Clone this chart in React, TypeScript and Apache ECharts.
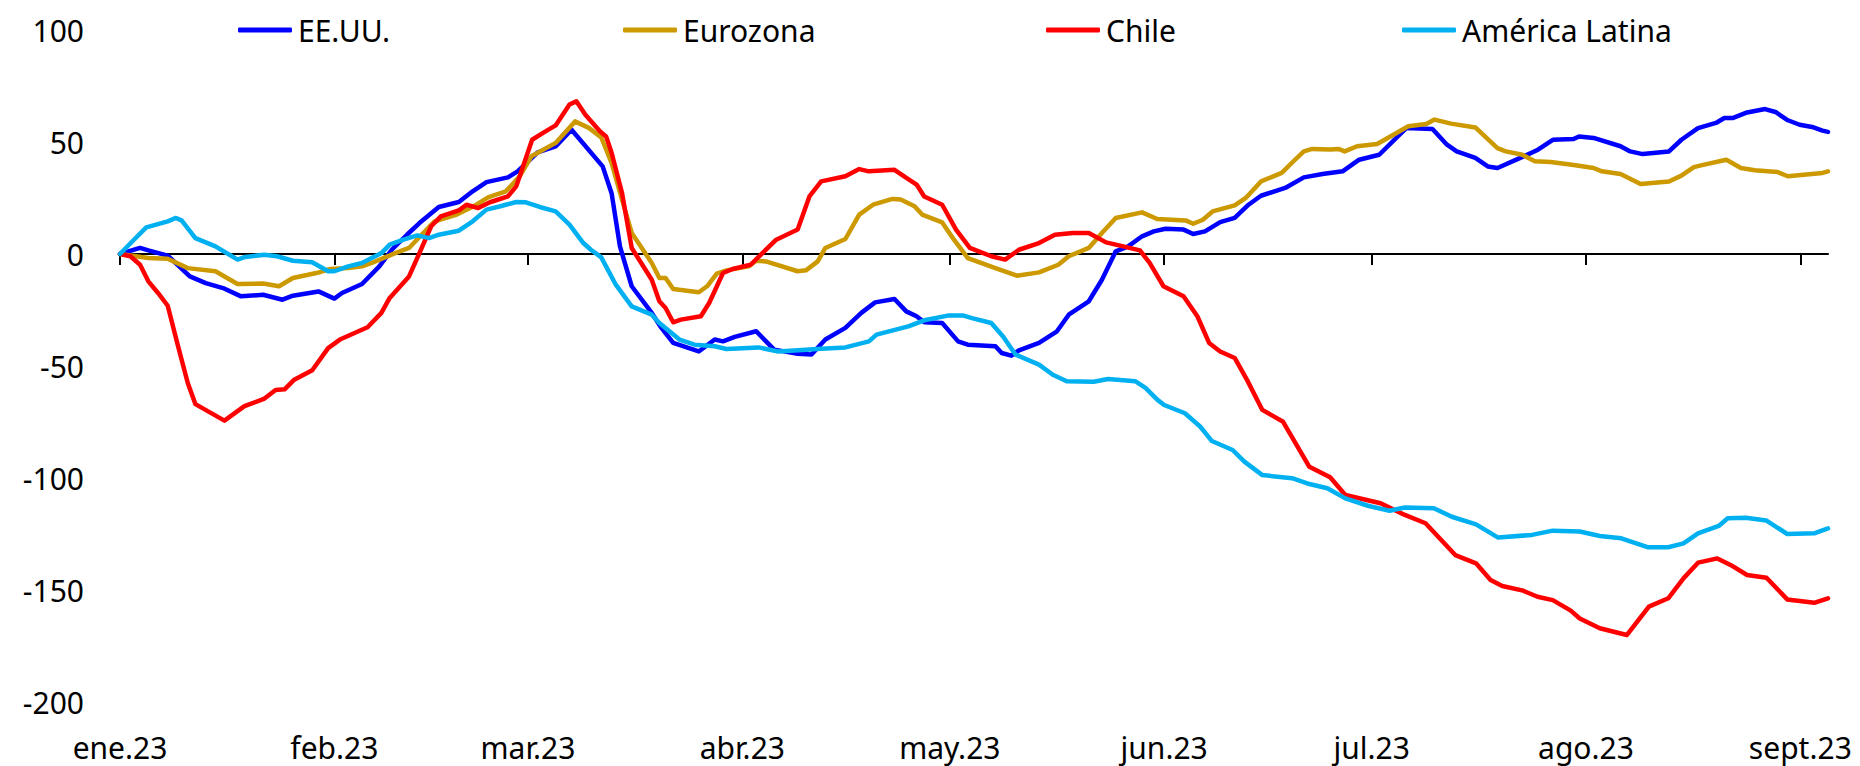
import React, { useEffect, useRef } from "react";
import * as echarts from "echarts";

// Day offsets counted from 1 Jan 2023
const monthStarts = [0, 31, 59, 90, 120, 151, 181, 212, 243];
const monthLabels = ["ene.23", "feb.23", "mar.23", "abr.23", "may.23", "jun.23", "jul.23", "ago.23", "sept.23"];
const yTicks = [-200, -150, -100, -50, 0, 50, 100];

const seriesNames = ["EE.UU.", "Eurozona", "Chile", "América Latina"];
const seriesColors = ["#0000FF", "#CC9900", "#FF0000", "#00B0F0"];

const eeuu: [number, number][] = [
  [0, 0], [2.9, 2.7], [4.1, 1.6], [6.9, -0.7], [10.1, -10], [12.4, -13], [14.9, -15.2], [17.5, -18.9],
  [20.7, -18.2], [23.5, -20.4], [25, -18.6], [28.7, -16.7], [31, -19.9], [32.1, -17.4], [35, -13.4],
  [37.5, -5.5], [39.3, 1.9], [41.5, 8.6], [43.3, 13.8], [46.1, 21], [49, 23.2], [51, 28], [53, 32.1],
  [56.1, 34.2], [57.5, 36.9], [60.4, 45.4], [63, 48], [65.3, 55.5], [69.8, 39.1], [71.1, 27], [72.3, 3.4],
  [74, -14.4], [76.9, -26.3], [78.3, -33], [80, -39.7], [83.7, -43.5], [86, -38.2], [87.2, -39], [88.9, -37],
  [92, -34.5], [94.6, -42.7], [98, -44.5], [100, -44.9], [102, -38.2], [104.9, -33], [107.2, -26.3],
  [109.2, -21.6], [112, -20.1], [113.7, -25.6], [115.2, -27.8], [116.3, -30.5], [118.9, -30.8], [121.2, -39],
  [122.6, -40.5], [126.6, -41.2], [127.5, -44.2], [128.9, -45.4], [130, -43], [132.9, -39.7], [135.5, -34.5],
  [137.2, -27.1], [140.1, -21.1], [142, -11.5], [144, 1.2], [145.8, 3.4], [147.8, 7.9], [149.5, 10.1],
  [151.2, 11.3], [153.8, 10.9], [155.2, 8.9], [156.9, 10.1], [159.1, 14.2], [161.2, 16.1], [163.2, 22],
  [165, 26], [168.5, 29.5], [171.2, 34.2], [173.9, 35.7], [176.8, 36.9], [179.2, 42.1], [182.1, 44.3],
  [186, 56.2], [189.8, 55.8], [191.9, 48.8], [193.3, 45.8], [196, 42.9], [197.8, 39.1], [199.2, 38.4],
  [202.5, 42.9], [204.9, 46.3], [207.2, 51], [210.2, 51.3], [211, 52.5], [213.1, 51.8], [217, 48.1],
  [218.4, 45.8], [220.2, 44.6], [224, 45.8], [225.8, 51], [228.2, 56.2], [230.8, 58.5], [232, 60.7],
  [233.2, 60.7], [235.3, 63.2], [237.9, 64.7], [239.4, 63.4], [241.2, 59.7], [242.9, 57.7], [244.7, 56.7],
  [246.2, 55.1], [247, 54.5],
];

const eurozona: [number, number][] = [
  [0, 0], [4.1, -1.8], [6.9, -2.1], [9.8, -6.3], [13.8, -7.7], [17, -13.4], [20.7, -13.2], [23, -14.4],
  [25, -10.7], [28.4, -8.5], [30.4, -6.7], [33, -6.3], [35, -5.5], [36.4, -4], [39.8, 0.4], [41.8, 2.7],
  [43.3, 7.6], [45.5, 14.6], [48.7, 17.6], [51.3, 21.6], [53.3, 25.4], [55.8, 28], [57.8, 34.7], [59.5, 43.6],
  [63, 49.6], [65.8, 59.2], [67.8, 56.3], [69.6, 52], [71.1, 40.6], [72.6, 24.3], [74, 9.4], [76.9, -4],
  [78, -10.7], [78.9, -10.7], [80, -15.6], [83.7, -17.1], [84.9, -14.4], [86.3, -8.8], [87.7, -7.3],
  [90.9, -5.5], [92, -3], [93.4, -3.3], [98, -7.7], [99.2, -7.3], [100.9, -3.3], [102, 2.7], [104.9, 6.7],
  [106.9, 17.6], [108.9, 22], [111.7, 24.6], [112.9, 24.3], [114.9, 21.3], [116, 17.6], [118.9, 14.1],
  [120.6, 6.4], [122.6, -1.8], [126.6, -6.3], [129.7, -9.7], [132.9, -8.2], [135.7, -4.8], [137.2, -1],
  [140.1, 2.7], [142, 9.4], [144, 16.1], [147.8, 18.6], [150, 15.6], [154.1, 15], [155.2, 13.5], [156.6, 15.3],
  [158, 19], [161.2, 21.7], [162.9, 25.3], [165, 32.4], [168, 36.2], [169.7, 41.4], [171.2, 45.8], [172.4, 46.9],
  [175, 46.6], [176.2, 46.9], [177.1, 45.8], [178.9, 48.1], [181.8, 49.1], [183.9, 52.8], [186.3, 57],
  [188.9, 58], [190.1, 60], [192.5, 58.2], [196, 56.5], [199.2, 47.3], [200.4, 45.8], [202.8, 44.3],
  [204.6, 41.4], [206.9, 41.1], [210.5, 39.6], [213.1, 38.4], [214.3, 36.9], [217, 35.7], [219.9, 31.2],
  [224, 32.4], [225.8, 35], [227.6, 38.8], [229.1, 39.9], [232.3, 42.1], [234.4, 38.4], [236.4, 37.4],
  [239.7, 36.6], [241.2, 34.7], [243.5, 35.4], [246.2, 36.2], [247, 36.9],
];

const chile: [number, number][] = [
  [0, 0], [1.5, -1], [2.9, -4.8], [4.1, -12.2], [5.5, -17.4], [6.9, -23.1], [8.4, -41.2], [9.8, -57.6],
  [10.9, -67], [15.1, -74.4], [18, -67.9], [20.8, -64.7], [22.5, -60.7], [23.8, -60.4], [25.2, -56.1],
  [27.8, -51.9], [30.1, -42], [31.8, -38.2], [35.8, -32.7], [37.8, -26.3], [39, -19.6], [41.8, -10],
  [43.3, 0.4], [45, 12.4], [46.4, 16.8], [49, 19.5], [50.1, 22], [51.8, 20.5], [53.5, 23.1], [56.1, 25.7],
  [57.3, 30.2], [59.6, 51], [61.3, 54.3], [63, 57.4], [65, 66.7], [66, 68.2], [67.3, 62.2], [69.4, 54.8],
  [70.3, 52.5], [71.1, 45.1], [72.6, 27.2], [74, 2.7], [76.9, -11.5], [78, -21.1], [78.9, -24.1], [80, -30.5],
  [81.1, -29.3], [84, -27.8], [85.2, -21.9], [87.2, -8.5], [88.6, -6.7], [91.2, -4.8], [92.9, 0.4],
  [94.9, 6.4], [98, 10.9], [99.7, 25.7], [101.4, 32.4], [104.9, 34.7], [106.9, 37.9], [108.3, 36.9],
  [112, 37.6], [113.5, 34.4], [115.2, 31], [116.3, 25.7], [118.9, 22], [120.9, 10.9], [122.9, 2.7],
  [126, -1], [128, -2.5], [130, 1.9], [132.9, 4.9], [135.2, 8.6], [137.8, 9.4], [140.1, 9.4], [142.6, 5.2],
  [144, 4.2], [147.5, 1.6], [148.9, -4], [150.9, -14.4], [153.8, -18.9], [155.8, -27.8], [157.5, -39.7],
  [159.1, -43.5], [161.2, -46.4], [163, -56.3], [165.2, -69.6], [168.2, -74.9], [172, -95], [175, -99.7],
  [177.2, -107.6], [182.3, -111.3], [185.8, -116.5], [188.8, -120.2], [193.1, -134.4], [196.1, -138.1],
  [198.2, -145.5], [199.9, -148.2], [202.9, -150.3], [205, -153], [207.2, -154.5], [209.8, -159.2],
  [211.1, -162.7], [214, -167.1], [217.9, -170.1], [221.1, -157.4], [223.9, -153.7], [226.1, -144.8],
  [228.2, -137.8], [231, -135.9], [232.9, -138.8], [235.3, -143.3], [238.1, -144.5], [241.1, -154.2],
  [245, -155.7], [247, -153.7],
];

const americaLatina: [number, number][] = [
  [0, 0], [1.8, 5.7], [3.8, 11.9], [6.9, 14.6], [8.1, 16.1], [8.9, 15], [10.9, 7.1], [13.8, 3.4], [17, -2.5],
  [18.1, -1.3], [20.9, -0.3], [22.7, -1], [25, -3], [27.8, -3.7], [30.1, -7.7], [31, -7.7], [33, -5.5],
  [35, -4], [36.4, -1.8], [37.8, 0.4], [39, 4.2], [41, 6.4], [43, 8.3], [44.7, 7.1], [46.1, 8.6], [49, 10.4],
  [51, 14.6], [53, 19.8], [55, 21.3], [57.3, 23.2], [58.7, 23.1], [60.7, 21], [63, 19], [65, 13.1], [67, 4.9],
  [68.1, 1.9], [69.6, -1.5], [71.7, -13.7], [74, -23.4], [76.9, -27.1], [78, -30.8], [80.9, -38.2],
  [83.1, -40.5], [86, -41.2], [87.7, -42.4], [92.3, -41.7], [95.2, -43.5], [99.2, -42.7], [101.4, -42.3],
  [104.9, -41.7], [108.3, -39], [109.4, -36], [114, -32.3], [116.3, -29.6], [119.7, -27.5], [122, -27.5],
  [123.2, -28.6], [126, -30.8], [127.7, -36.8], [129.5, -44.9], [132.9, -49.4], [134.9, -53.9], [136.9, -56.8],
  [140.8, -57], [142.9, -55.8], [146.8, -56.8], [148.3, -59.8], [150, -65], [151, -67.4], [154, -71.1],
  [156.2, -77], [157.9, -83.5], [160.9, -87.5], [162.6, -92.7], [165.2, -98.7], [169.5, -100.1], [172, -102.7],
  [174.6, -104.6], [177.2, -109.1], [180.6, -112.5], [183.6, -114.6], [185.8, -113.2], [190, -113.5],
  [192.6, -117.3], [196.1, -120.7], [199.3, -126.6], [204.2, -125.4], [207.2, -123.5], [211.1, -123.9],
  [214, -125.9], [217.1, -126.9], [220.9, -130.9], [223.9, -130.9], [226.1, -129.2], [228.2, -124.7],
  [231.2, -121.4], [232.5, -118], [235.1, -117.7], [238.1, -119], [241.1, -125], [245, -124.7], [247, -122.5],
];

const seriesData = [eeuu, eurozona, chile, americaLatina];

const X_MIN = 0;
const X_MAX = 247;
const FONT = "'Noto Sans', 'Open Sans', sans-serif";
const legendLefts = [238, 623, 1046, 1402];

export default function App() {
  const ref = useRef<HTMLDivElement>(null);

  useEffect(() => {
    if (!ref.current) return;
    const chart = echarts.init(ref.current, null, { renderer: "svg" });
    const labelFor = (v: number) => {
      const i = monthStarts.indexOf(Math.round(v));
      return i >= 0 ? monthLabels[i] : "";
    };
    chart.setOption({
      animation: false,
      backgroundColor: "#ffffff",
      textStyle: { fontFamily: FONT },
      grid: { left: 120, right: 32, top: 30, bottom: 64, containLabel: false },
      legend: seriesNames.map((name, i) => ({
        data: [name],
        left: legendLefts[i],
        top: 15,
        padding: 0,
        icon: "roundRect",
        itemWidth: 54,
        itemHeight: 5,
        itemStyle: { color: seriesColors[i] },
        textStyle: { fontFamily: FONT, fontSize: 30, color: "#000", lineHeight: 30, padding: [0, 0, 0, 1] },
        selectedMode: false,
      })),
      xAxis: [
        {
          type: "value",
          min: X_MIN,
          max: X_MAX,
          position: "bottom",
          axisLine: { show: true, onZero: true, lineStyle: { color: "#000", width: 2 } },
          axisTick: { show: true, length: 11, customValues: monthStarts, lineStyle: { color: "#000", width: 2 } },
          axisLabel: { show: false },
          splitLine: { show: false },
        },
        {
          type: "value",
          min: X_MIN,
          max: X_MAX,
          position: "bottom",
          axisLine: { show: false, onZero: false },
          axisTick: { show: false },
          splitLine: { show: false },
          axisLabel: {
            show: true,
            customValues: monthStarts,
            formatter: (v: number) => labelFor(v),
            fontFamily: FONT,
            fontSize: 30,
            lineHeight: 30,
            color: "#000",
            margin: 30,
            showMinLabel: true,
            showMaxLabel: true,
          },
        },
      ],
      yAxis: {
        type: "value",
        min: -200,
        max: 100,
        interval: 50,
        axisLine: { show: false },
        axisTick: { show: false },
        splitLine: { show: false },
        axisLabel: {
          fontFamily: FONT,
          fontSize: 30,
          lineHeight: 30,
          color: "#000",
          margin: 36,
          formatter: (v: number) => (yTicks.includes(v) ? String(v) : ""),
        },
      },
      series: seriesNames.map((name, i) => ({
        name,
        type: "line",
        xAxisIndex: 0,
        data: seriesData[i],
        showSymbol: false,
        symbol: "none",
        lineStyle: { color: seriesColors[i], width: 4.5, join: "round", cap: "round" },
        itemStyle: { color: seriesColors[i] },
        emphasis: { disabled: true },
      })),
    });
    return () => chart.dispose();
  }, []);

  return (
    <div
      ref={ref}
      style={{ position: "fixed", left: 0, top: 0, width: 1860, height: 766, background: "#fff" }}
    />
  );
}
